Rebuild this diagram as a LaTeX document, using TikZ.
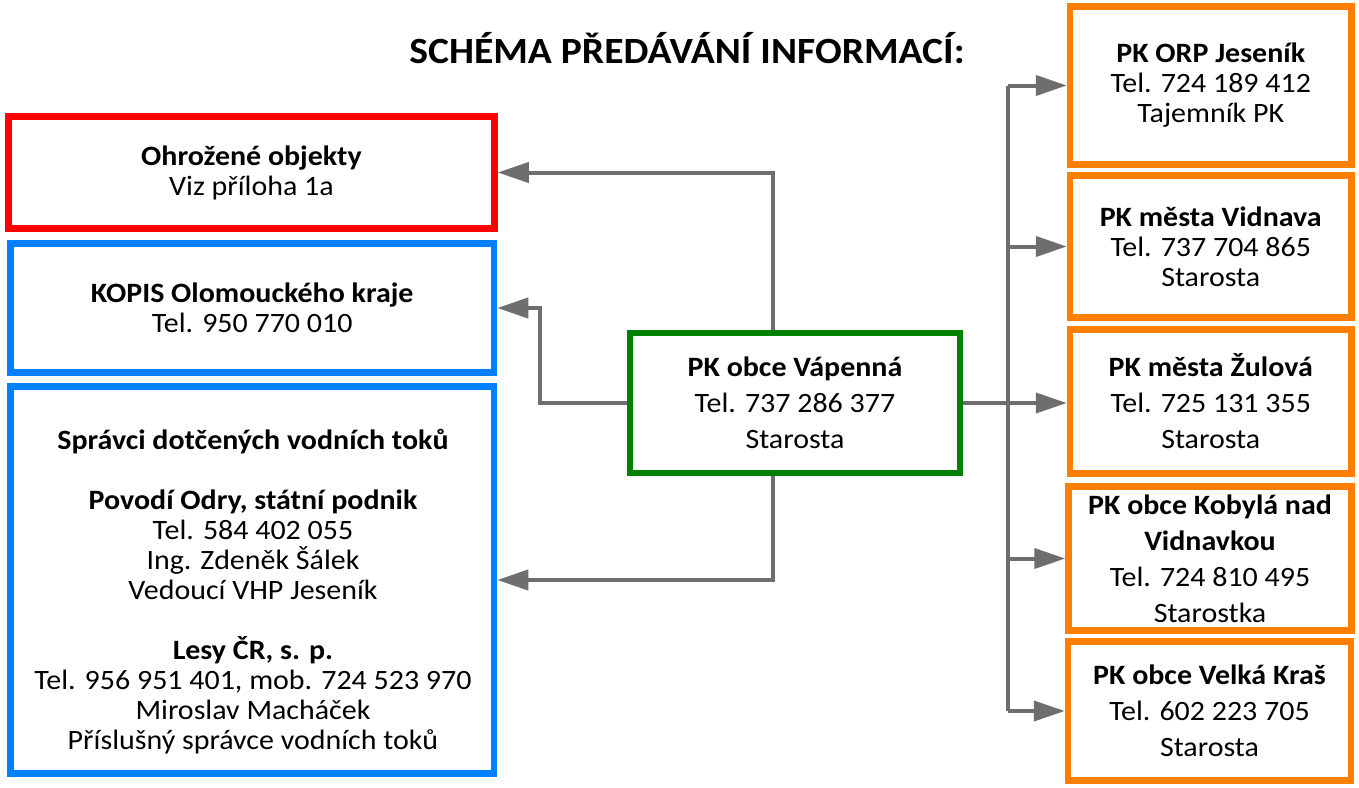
\documentclass[tikz,border=0pt]{standalone}
\usepackage{fontspec}
\setmainfont[FakeStretch=1.07]{Carlito}
\usetikzlibrary{arrows.meta,calc}
\definecolor{cred}{HTML}{FF0000}
\definecolor{cblue}{HTML}{0080FF}
\definecolor{cgreen}{HTML}{008000}
\definecolor{corange}{HTML}{FF8000}
\definecolor{cgray}{HTML}{6E6E6E}
\tikzset{
  box/.style={draw, line width=6.5pt, outer sep=3.25pt, inner sep=0pt, fill=white,
    align=center, font=\fontsize{28}{30}\selectfont},
  tall/.style={font=\fontsize{28}{36}\selectfont},
  conn/.style={draw=cgray, line width=4pt},
  arr/.style={conn, -{Triangle[length=31pt,width=20pt]}},
}
\begin{document}
\begin{tikzpicture}[x=1pt,y=-1pt]
\useasboundingbox (0,0) rectangle (1359,787);
\fill[white] (0,0) rectangle (1359,787);
\node[anchor=base, font=\bfseries\fontsize{37}{40}\selectfont] (title) at (687,63) {SCHÉMA PŘEDÁVÁNÍ INFORMACÍ:};
% left boxes
\node[box, draw=cred, minimum width=486, minimum height=112] (red) at (251.5,172.5)
  {\textbf{Ohrožené objekty}\\Viz příloha 1a};
\node[box, draw=cblue, minimum width=483.5, minimum height=129] (kopis) at (252.25,308)
  {\textbf{KOPIS Olomouckého kraje}\\Tel. 950 770 010};
\node[box, draw=cblue, minimum width=483.5, minimum height=387] (spr) at (252.25,580)
  {};
\node[align=center, font=\fontsize{28}{30}\selectfont] (sprtext) at (253,592)
  {\textbf{Správci dotčených vodních toků}\\[30pt]\textbf{Povodí Odry, státní podnik}\\Tel. 584 402 055\\Ing. Zdeněk Šálek\\Vedoucí VHP Jeseník\\[30pt]\textbf{Lesy ČR, s. p.}\\Tel. 956 951 401, mob. 724 523 970\\Miroslav Macháček\\Příslušný správce vodních toků};
% centre
\node[box, tall, draw=cgreen, minimum width=330, minimum height=140] (green) at (795,403)
  {\textbf{PK obce Vápenná}\\Tel. 737 286 377\\Starosta};
% right boxes
\node[box, draw=corange, minimum width=281.5, minimum height=158] (orp) at (1210.75,85.5)
  {\textbf{PK ORP Jeseník}\\Tel. 724 189 412\\Tajemník PK};
\node[box, draw=corange, minimum width=281.5, minimum height=142] (vid) at (1210.75,246.5)
  {\textbf{PK města Vidnava}\\Tel. 737 704 865\\Starosta};
\node[box, tall, draw=corange, minimum width=281.5, minimum height=144] (zul) at (1210.75,401.5)
  {\textbf{PK města Žulová}\\Tel. 725 131 355\\Starosta};
\node[box, tall, draw=corange, minimum width=283, minimum height=144] (kob) at (1210,558.5)
  {\textbf{PK obce Kobylá nad}\\\textbf{Vidnavkou}\\Tel. 724 810 495\\Starostka};
\node[box, tall, draw=corange, minimum width=283, minimum height=139] (vel) at (1209.5,711)
  {\textbf{PK obce Velká Kraš}\\Tel. 602 223 705\\Starosta};
% connectors left
\draw[arr] ([xshift=-22pt]green.north) |- (red.east);
\draw[arr] (green.west) -- ++(-87,0) |- (kopis.east);
\draw[arr] ([xshift=-22pt]green.south) |- (spr.east);
% connectors right
\coordinate (tr) at (1008,0);
\draw[conn] (tr |- orp.west) -- (tr |- vel.west);
\draw[arr] (green.east) -- (green.east -| zul.west);
\draw[arr] (tr |- orp.west) -- (orp.west);
\draw[arr] (tr |- vid.west) -- (vid.west);
\draw[arr] (tr |- kob.west) -- (kob.west);
\draw[arr] (tr |- vel.west) -- (vel.west);
\end{tikzpicture}
\end{document}
